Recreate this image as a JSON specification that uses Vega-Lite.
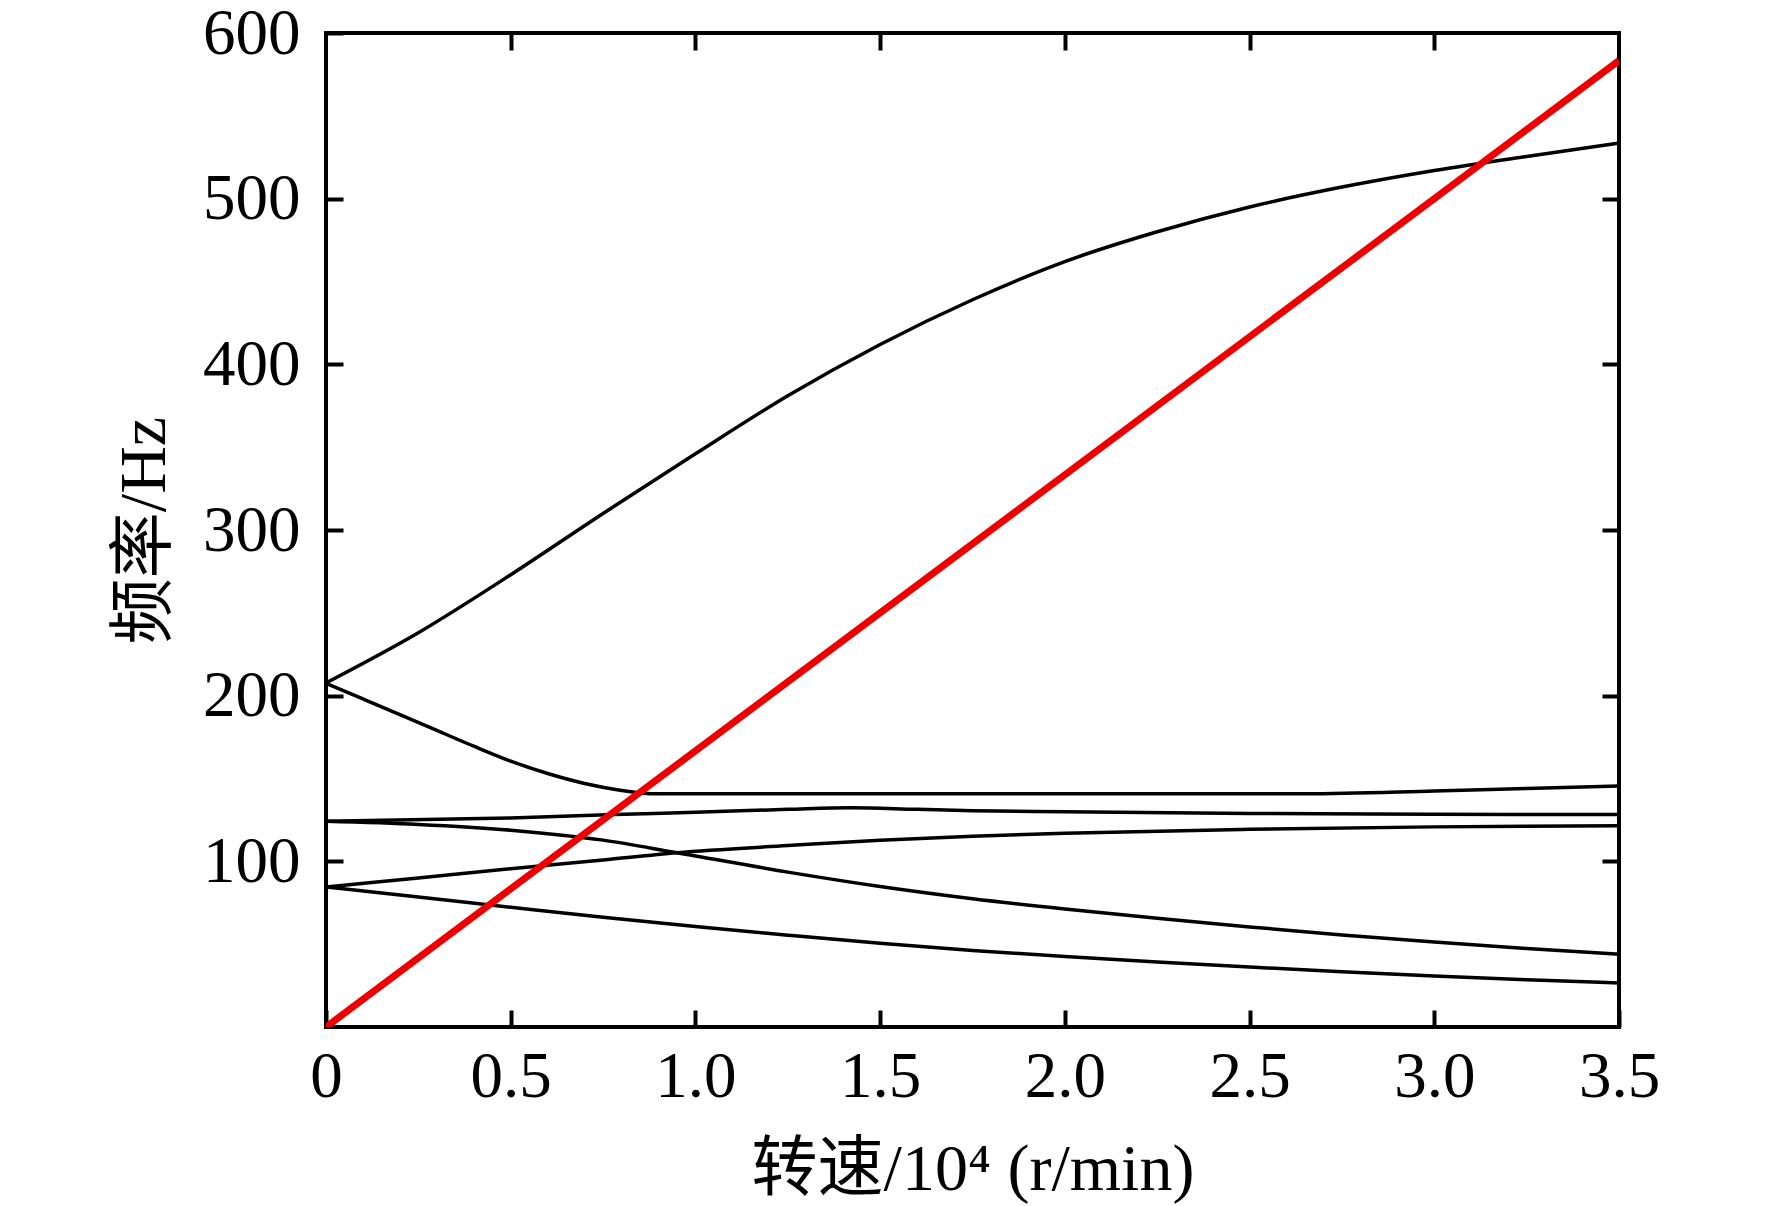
{
  "$schema": "https://vega.github.io/schema/vega-lite/v6.json",
  "autosize": "none",
  "padding": {"left": 326, "top": 33, "right": 153, "bottom": 179},
  "width": 1293,
  "height": 994,
  "background": "white",
  "config": {
    "view": {"stroke": "black", "strokeWidth": 4},
    "font": "Liberation Serif, Noto Sans CJK SC",
    "axis": {
      "domain": false,
      "grid": false,
      "ticks": true,
      "tickColor": "black",
      "tickSize": -17,
      "tickWidth": 4,
      "labelColor": "black",
      "labelFont": "Liberation Serif",
      "labelFontSize": 65,
      "labelFlush": false,
      "labelOverlap": false,
      "titleColor": "black",
      "titleFont": "Liberation Serif, Noto Sans CJK SC",
      "titleFontSize": 66,
      "titleFontWeight": "normal"
    }
  },
  "datasets": {
    "modes": [
      {"speed": 0, "freq": 207.7, "mode": "A"},
      {"speed": 0.25, "freq": 238, "mode": "A"},
      {"speed": 0.5, "freq": 273, "mode": "A"},
      {"speed": 0.75, "freq": 310, "mode": "A"},
      {"speed": 1.0, "freq": 346, "mode": "A"},
      {"speed": 1.25, "freq": 381, "mode": "A"},
      {"speed": 1.5, "freq": 412, "mode": "A"},
      {"speed": 1.75, "freq": 439, "mode": "A"},
      {"speed": 2.0, "freq": 462, "mode": "A"},
      {"speed": 2.25, "freq": 480, "mode": "A"},
      {"speed": 2.5, "freq": 495, "mode": "A"},
      {"speed": 2.75, "freq": 507, "mode": "A"},
      {"speed": 3.0, "freq": 517, "mode": "A"},
      {"speed": 3.25, "freq": 525.5, "mode": "A"},
      {"speed": 3.5, "freq": 533.5, "mode": "A"},

      {"speed": 0, "freq": 207.5, "mode": "B"},
      {"speed": 0.1, "freq": 198, "mode": "B"},
      {"speed": 0.2, "freq": 188.5, "mode": "B"},
      {"speed": 0.3, "freq": 179, "mode": "B"},
      {"speed": 0.4, "freq": 169.5, "mode": "B"},
      {"speed": 0.5, "freq": 160.5, "mode": "B"},
      {"speed": 0.6, "freq": 153, "mode": "B"},
      {"speed": 0.7, "freq": 147, "mode": "B"},
      {"speed": 0.8, "freq": 142.8, "mode": "B"},
      {"speed": 0.88, "freq": 140.8, "mode": "B"},
      {"speed": 1.5, "freq": 140.8, "mode": "B"},
      {"speed": 2.0, "freq": 140.8, "mode": "B"},
      {"speed": 2.65, "freq": 140.8, "mode": "B"},
      {"speed": 3.0, "freq": 142.5, "mode": "B"},
      {"speed": 3.25, "freq": 144, "mode": "B"},
      {"speed": 3.5, "freq": 145.5, "mode": "B"},

      {"speed": 0, "freq": 124.2, "mode": "C"},
      {"speed": 0.5, "freq": 126.2, "mode": "C"},
      {"speed": 0.78, "freq": 128.2, "mode": "C"},
      {"speed": 1.0, "freq": 129.6, "mode": "C"},
      {"speed": 1.25, "freq": 131.4, "mode": "C"},
      {"speed": 1.42, "freq": 132.4, "mode": "C"},
      {"speed": 1.6, "freq": 131.4, "mode": "C"},
      {"speed": 1.75, "freq": 130.6, "mode": "C"},
      {"speed": 2.0, "freq": 129.9, "mode": "C"},
      {"speed": 2.5, "freq": 128.9, "mode": "C"},
      {"speed": 3.0, "freq": 128.4, "mode": "C"},
      {"speed": 3.5, "freq": 128.2, "mode": "C"},

      {"speed": 0, "freq": 124.2, "mode": "D"},
      {"speed": 0.25, "freq": 122.3, "mode": "D"},
      {"speed": 0.5, "freq": 118.8, "mode": "D"},
      {"speed": 0.75, "freq": 112.8, "mode": "D"},
      {"speed": 0.95, "freq": 105.2, "mode": "D"},
      {"speed": 1.25, "freq": 93.5, "mode": "D"},
      {"speed": 1.5, "freq": 84.8, "mode": "D"},
      {"speed": 1.75, "freq": 77.4, "mode": "D"},
      {"speed": 2.0, "freq": 71.2, "mode": "D"},
      {"speed": 2.25, "freq": 65.6, "mode": "D"},
      {"speed": 2.5, "freq": 60.4, "mode": "D"},
      {"speed": 2.75, "freq": 55.6, "mode": "D"},
      {"speed": 3.0, "freq": 51.3, "mode": "D"},
      {"speed": 3.25, "freq": 47.4, "mode": "D"},
      {"speed": 3.5, "freq": 43.9, "mode": "D"},

      {"speed": 0, "freq": 84.5, "mode": "E"},
      {"speed": 0.25, "freq": 90, "mode": "E"},
      {"speed": 0.5, "freq": 95.5, "mode": "E"},
      {"speed": 0.75, "freq": 100.8, "mode": "E"},
      {"speed": 0.95, "freq": 105.2, "mode": "E"},
      {"speed": 1.25, "freq": 109.5, "mode": "E"},
      {"speed": 1.5, "freq": 112.8, "mode": "E"},
      {"speed": 1.75, "freq": 115.2, "mode": "E"},
      {"speed": 2.0, "freq": 117, "mode": "E"},
      {"speed": 2.5, "freq": 119.3, "mode": "E"},
      {"speed": 3.0, "freq": 120.8, "mode": "E"},
      {"speed": 3.5, "freq": 121.5, "mode": "E"},

      {"speed": 0, "freq": 84.5, "mode": "F"},
      {"speed": 0.25, "freq": 78.5, "mode": "F"},
      {"speed": 0.5, "freq": 72.3, "mode": "F"},
      {"speed": 0.75, "freq": 66.2, "mode": "F"},
      {"speed": 1.0, "freq": 60.6, "mode": "F"},
      {"speed": 1.25, "freq": 55.4, "mode": "F"},
      {"speed": 1.5, "freq": 50.5, "mode": "F"},
      {"speed": 1.75, "freq": 46.2, "mode": "F"},
      {"speed": 2.0, "freq": 42.5, "mode": "F"},
      {"speed": 2.25, "freq": 39.2, "mode": "F"},
      {"speed": 2.5, "freq": 36.2, "mode": "F"},
      {"speed": 2.75, "freq": 33.4, "mode": "F"},
      {"speed": 3.0, "freq": 30.8, "mode": "F"},
      {"speed": 3.25, "freq": 28.5, "mode": "F"},
      {"speed": 3.5, "freq": 26.6, "mode": "F"}
    ],
    "excitation": [
      {"speed": 0, "freq": 0},
      {"speed": 3.5, "freq": 583.3}
    ]
  },
  "layer": [
    {
      "data": {"name": "modes"},
      "mark": {"type": "line", "color": "black", "strokeWidth": 3.5, "interpolate": "monotone", "clip": true},
      "encoding": {
        "x": {
          "field": "speed",
          "type": "quantitative",
          "scale": {"domain": [0, 3.5], "nice": false, "zero": false},
          "axis": {
            "orient": "bottom",
            "values": [0, 0.5, 1, 1.5, 2, 2.5, 3, 3.5],
            "labelExpr": "datum.value == 0 ? '0' : format(datum.value, '.1f')",
            "labelPadding": 35,
            "title": "转速/10⁴ (r/min)",
            "titlePadding": 28
          }
        },
        "y": {
          "field": "freq",
          "type": "quantitative",
          "scale": {"domain": [0, 600], "nice": false},
          "axis": {
            "orient": "left",
            "values": [100, 200, 300, 400, 500, 600],
            "labelPadding": 43,
            "title": "频率/Hz",
            "titlePadding": 24
          }
        },
        "detail": {"field": "mode", "type": "nominal"}
      }
    },
    {
      "data": {"name": "excitation"},
      "mark": {"type": "line", "color": "#ee0000", "strokeWidth": 7, "clip": true},
      "encoding": {
        "x": {
          "field": "speed",
          "type": "quantitative",
          "axis": {
            "orient": "top",
            "values": [0.5, 1, 1.5, 2, 2.5, 3],
            "labels": false,
            "title": null
          }
        },
        "y": {
          "field": "freq",
          "type": "quantitative",
          "axis": {
            "orient": "right",
            "values": [100, 200, 300, 400, 500],
            "labels": false,
            "title": null
          }
        }
      }
    }
  ],
  "resolve": {"axis": {"x": "independent", "y": "independent"}}
}
